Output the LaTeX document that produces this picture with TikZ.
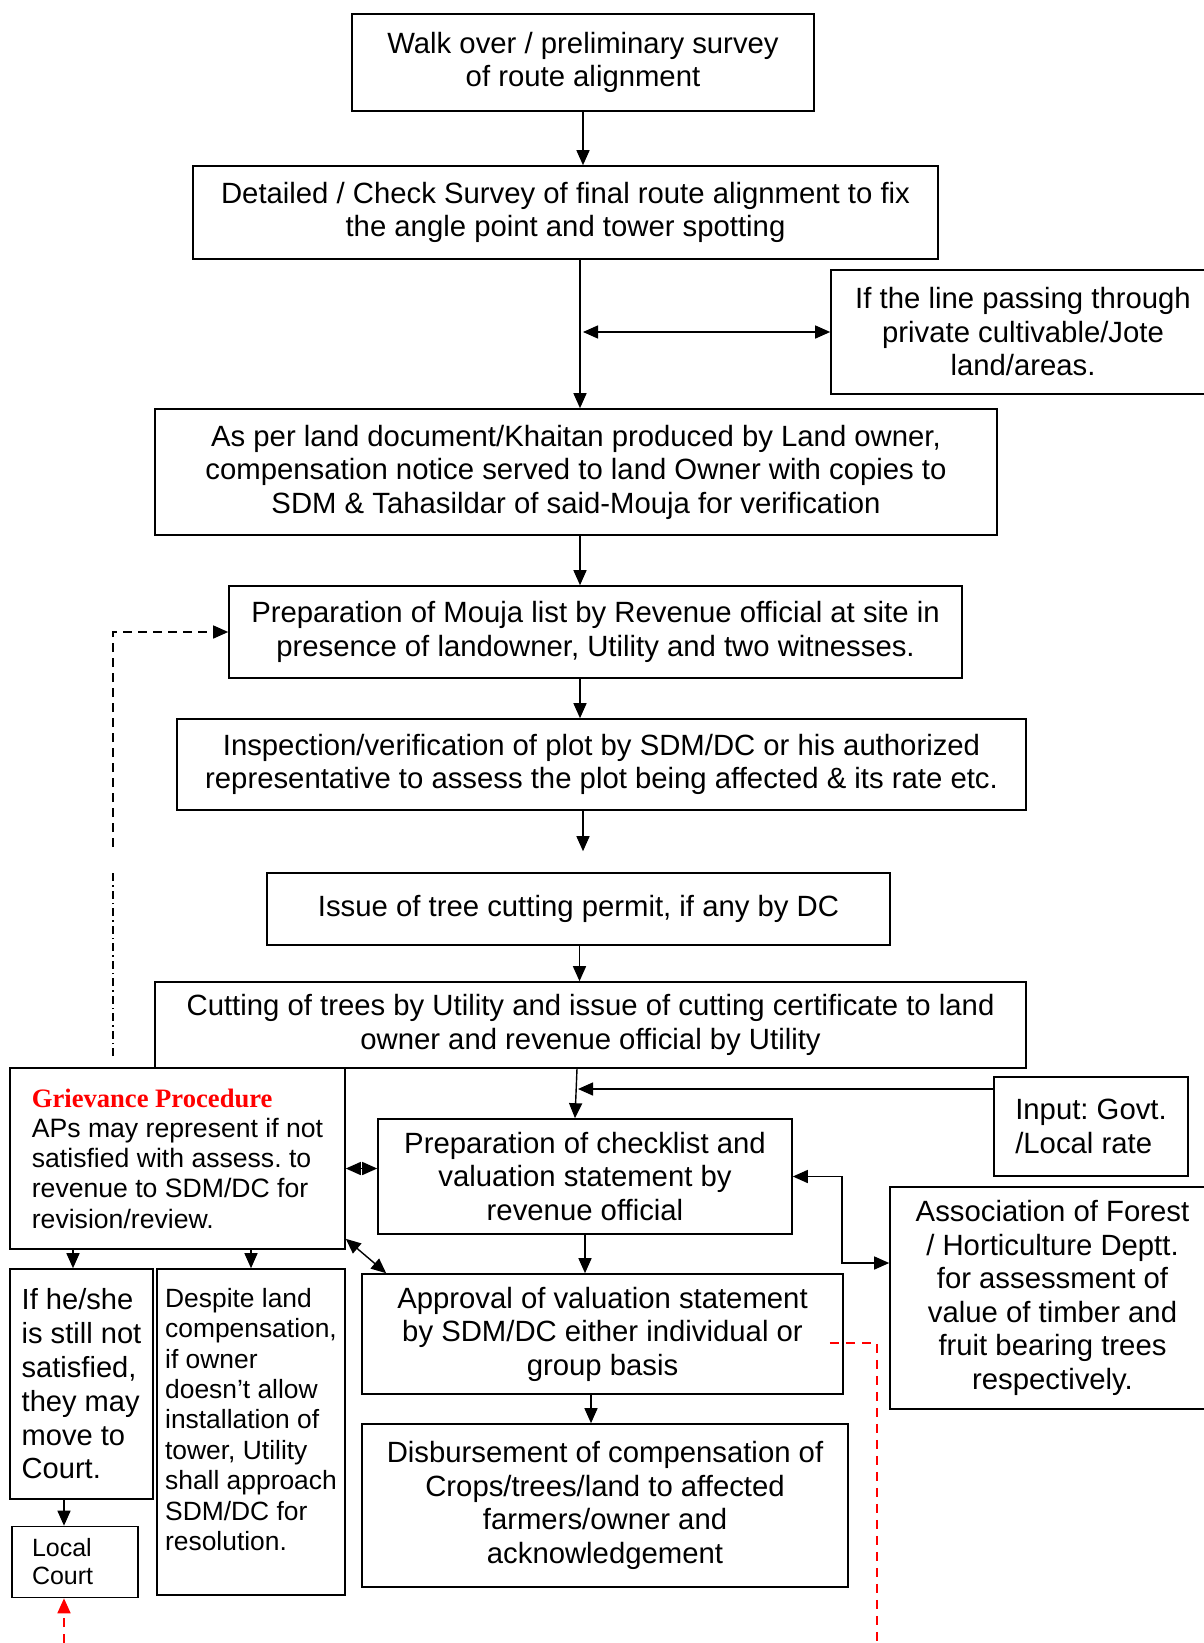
\documentclass[tikz,border=0pt]{standalone}
\usepackage{fontspec}
\setmainfont{Liberation Sans}
\newfontfamily\headfont{Liberation Serif}
\usepackage{xcolor}
\usepackage{tikz}
\usetikzlibrary{positioning,arrows.meta}
\definecolor{flowred}{HTML}{FF0000}
\frenchspacing

\begin{document}
\begin{tikzpicture}[x=1pt,y=-1pt,
      block/.style={draw=black,line width=1.6pt,inner sep=0pt,align=center,font=\fontsize{29.3}{33.5}\selectfont},
      leftblock/.style={block,align=left},
      smallblock/.style={leftblock,font=\fontsize{26.6}{30.2}\selectfont},
      arrow/.style={->,>={Triangle[length=15pt,width=13pt]},line width=1.4pt},
      redarrow/.style={arrow,color=flowred,line width=1.8pt,dash pattern=on 9pt off 7pt}]
      \useasboundingbox (0,0) rectangle (1203,1643);
      % main chain
      \node[block,minimum width=462pt,minimum height=97pt] (walk) at (583,62.5) {Walk over / preliminary survey\\of route alignment};
      \node[block,minimum width=745pt,minimum height=93pt] (detail) at (565.5,212.5) {Detailed / Check Survey of final route alignment to fix\\the angle point and tower spotting};
      \node[block,minimum width=384pt,minimum height=124pt] (private) at (1023,332) {If the line passing through\\private cultivable/Jote\\land/areas.};
      \node[block,minimum width=842pt,minimum height=126pt] (notice) at (576,472) {As per land document/Khaitan produced by Land owner,\\compensation notice served to land Owner with copies to\\SDM \& Tahasildar of said-Mouja for verification};
      \node[block,minimum width=733pt,minimum height=92pt] (mouja) at (595.5,632) {Preparation of Mouja list by Revenue official at site in\\presence of landowner, Utility and two witnesses.};
      \node[block,minimum width=849pt,minimum height=91pt] (inspect) at (601.5,764.5) {Inspection/verification of plot by SDM/DC or his authorized\\representative to assess the plot being affected \& its rate etc.};
      \node[block,minimum width=623pt,minimum height=72pt] (permit) at (578.5,909) {Issue of tree cutting permit, if any by DC};
      \node[block,minimum width=871pt,minimum height=86pt] (cutting) at (590.5,1025) {Cutting of trees by Utility and issue of cutting certificate to land\\owner and revenue official by Utility};
      % lower part
      \node[smallblock,minimum width=335pt,minimum height=181pt] (grievance) at (177.5,1158.5) {{\headfont\bfseries\color{flowred}Grievance Procedure}\\APs may represent if not\\satisfied with assess. to\\revenue to SDM/DC for\\revision/review.};
      \node[leftblock,minimum width=194pt,minimum height=99pt] (rate) at (1091,1126.5) {Input: Govt.\\/Local rate};
      \node[block,minimum width=414pt,minimum height=115pt] (checklist) at (585,1176.5) {Preparation of checklist and\\valuation statement by\\revenue official};
      \node[block,minimum width=325pt,minimum height=222pt] (forest) at (1052.5,1298) {Association of Forest\\/ Horticulture Deptt.\\for assessment of\\value of timber and\\fruit bearing trees\\respectively.};
      \node[block,minimum width=481pt,minimum height=120pt] (approval) at (602.5,1334) {Approval of valuation statement\\by SDM/DC either individual or\\group basis};
      \node[block,minimum width=486pt,minimum height=163pt] (disburse) at (605,1505.5) {Disbursement of compensation of\\Crops/trees/land to affected\\farmers/owner and\\acknowledgement};
      \node[leftblock,font=\fontsize{29.1}{33.8}\selectfont,minimum width=143pt,minimum height=230pt] (court) at (81.5,1384) {If he/she\\is still not\\satisfied,\\they may\\move to\\Court.};
      \node[leftblock,font=\fontsize{25}{28}\selectfont,inner xsep=20pt,text width=86pt,minimum height=71pt] (local) at (75,1562) {Local\\Court};
      \node[smallblock,font=\fontsize{26.4}{30.4}\selectfont,minimum width=188pt,minimum height=326pt] (despite) at (251,1432) {Despite land\\compensation,\\if owner\\doesn’t allow\\installation of\\tower, Utility\\shall approach\\SDM/DC for\\resolution.\\[-5pt]};
      % free ends
      \coordinate (tap) at (583,332);
      \coordinate (join) at (578,1089);
      \coordinate (gtop) at (113,1056);
      \coordinate (gmid) at (113,873);
      \coordinate (gmid2) at (113,847);
      \coordinate (redbottom) at (877,1643);
      \coordinate (courtbottom) at (64,1643);
      % connectors
      \draw[arrow] (walk.south) -- (walk.south |- detail.north);
      \draw[arrow] ([xshift=14.5pt]detail.south) -- ([xshift=14.5pt]detail.south |- notice.north);
      \draw[arrow,<->] (tap) -- (private.west |- tap);
      \draw[arrow] ([xshift=4pt]notice.south) -- ([xshift=4pt]notice.south |- mouja.north);
      \draw[arrow] ([xshift=-15.5pt]mouja.south) -- ([xshift=-15.5pt]mouja.south |- inspect.north);
      \draw[arrow,shorten >=21pt] ([xshift=-18.5pt]inspect.south) -- ([xshift=-18.5pt]inspect.south |- permit.north);
      \draw[arrow] ([xshift=1pt]permit.south) -- ([xshift=1pt]permit.south |- cutting.north);
      \draw[arrow] ([xshift=-13.5pt]cutting.south) -- ([xshift=-10pt]checklist.north);
      \draw[arrow] ([yshift=37.5pt]rate.west) -- (join);
      \draw[arrow,<->] ([yshift=8pt]checklist.west -| grievance.east) -- ([yshift=8pt]checklist.west);
      \draw[arrow,<->] ([yshift=11pt]grievance.south east) -- ([xshift=25pt]approval.north west);
      \draw[arrow] (checklist.south) -- (checklist.south |- approval.north);
      \draw[arrow,<->] (checklist.east) -- ++(49,0) |- ([yshift=35pt]forest.west);
      \draw[arrow] ([xshift=-11.5pt]approval.south) -- ([xshift=-11.5pt]approval.south |- disburse.north);
      \draw[arrow] ([xshift=-8.5pt]court.north |- grievance.south) -- ([xshift=-8.5pt]court.north);
      \draw[arrow] (despite.north |- grievance.south) -- (despite.north);
      \draw[arrow] ([xshift=-11pt]local.north |- court.south) -- ([xshift=-11pt]local.north);
      % back to the mouja list
      \draw[line width=1.4pt,dash pattern=on 8pt off 4pt on 1.5pt off 4pt] (gtop) -- (gmid);
      \draw[arrow,dash pattern=on 9pt off 6pt] (gmid2) |- (mouja.west);
      % red links
      \draw[redarrow] (courtbottom) -- ([xshift=-11pt]local.south);
      \draw[redarrow,-] ([xshift=-14pt,yshift=-9pt]approval.east) -| (redbottom);
    \end{tikzpicture}
\end{document}
